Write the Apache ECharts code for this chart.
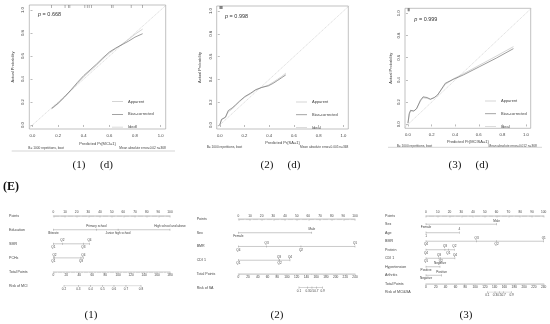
<!DOCTYPE html>
<html><head><meta charset="utf-8">
<script src="https://cdn.jsdelivr.net/npm/echarts@6/dist/echarts.min.js"></script>
<style>html,body{margin:0;padding:0;background:#fff}#c{width:550px;height:324px}</style>
</head><body><div id="c"></div>
<script>
// ---------- calibration curves ----------
const calTicks = [0, 0.2, 0.4, 0.6, 0.8, 1.0];
const cal1Pred = [0.15, 0.2, 0.25, 0.3, 0.35, 0.4, 0.45, 0.5, 0.55, 0.6, 0.65, 0.7, 0.75, 0.8, 0.86];
const cal1Bias = [0.145, 0.19, 0.245, 0.305, 0.37, 0.43, 0.48, 0.53, 0.585, 0.635, 0.67, 0.70, 0.73, 0.765, 0.795];
const cal1App  = [0.14, 0.185, 0.24, 0.3, 0.36, 0.42, 0.47, 0.52, 0.575, 0.625, 0.665, 0.705, 0.745, 0.79, 0.835];
const cal1Rug  = [0.15, 0.254, 0.28, 0.292, 0.409, 0.427, 0.442, 0.46, 0.616, 0.629, 0.77, 0.86];
const cal2Pred = [0, 0.014, 0.024, 0.046, 0.068, 0.1, 0.127, 0.16, 0.203, 0.25, 0.29, 0.34, 0.393, 0.43, 0.466, 0.5, 0.534];
const cal2Bias = [0, 0.05, 0.056, 0.068, 0.126, 0.15, 0.176, 0.21, 0.25, 0.28, 0.31, 0.33, 0.344, 0.365, 0.39, 0.415, 0.44];
const cal2App  = [0, 0.045, 0.06, 0.07, 0.115, 0.14, 0.17, 0.205, 0.245, 0.275, 0.305, 0.33, 0.35, 0.375, 0.40, 0.425, 0.455];
const cal2Rug  = [0, 0.004, 0.008, 0.012, 0.016, 0.02];
const cal3Pred = [0, 0.011, 0.022, 0.05, 0.073, 0.106, 0.128, 0.162, 0.19, 0.223, 0.251, 0.316, 0.385, 0.469, 0.609, 0.749, 0.894];
const cal3Bias = [0.012, 0.097, 0.127, 0.121, 0.142, 0.218, 0.248, 0.242, 0.227, 0.242, 0.264, 0.37, 0.406, 0.445, 0.521, 0.597, 0.682];
const cal3App  = [0.01, 0.09, 0.12, 0.12, 0.14, 0.21, 0.24, 0.235, 0.225, 0.24, 0.265, 0.36, 0.41, 0.455, 0.535, 0.615, 0.70];
const cal3Rug  = [0, 0.004, 0.008, 0.012];
const pValues  = ['0.668', '0.998', '0.999'];
const xTitles  = ['Predicted Pr{MCI=1}', 'Predicted Pr{SA=1}', 'Predicted Pr{MCISA=1}'];
const bootText = 'B= 1000 repetitions, boot';
const maeTexts = ['Mean absolute error=0.02 n=368', 'Mean absolute error=0.005 n=368', 'Mean absolute error=0.012 n=368'];
const legendNames = ['Apparent', 'Bias-corrected', 'Ideal'];
const idealRange = [-0.1, 1.1];

// ---------- nomograms ----------
const nomo1Rows = ['Points', 'Education', 'SMR', 'PCHs', 'Total Points', 'Risk of MCI'];
const eduLabels = ['Illiterate', 'Primary school', 'Junior high school', 'High school and above'];
const eduPoints = [0, 37, 55.5, 100];
const smr1Labels = ['Q1', 'Q2', 'Q3', 'Q4'];
const smr1Points = [0, 7.7, 25.7, 31];
const pch1Labels = ['Q1', 'Q2', 'Q3', 'Q4'];
const pch1Points = [0, 1, 23.7, 25.7];
const total1Max = 180;
const risk1Labels = ['0.2', '0.3', '0.4', '0.5', '0.6', '0.7', '0.8'];
const risk1Points = [16.5, 38.6, 57.6, 76.1, 93.6, 112.1, 135.3];

const nomo2Rows = ['Points', 'Sex', 'BMR', 'CDI 1', 'Total Points', 'Risk of SA'];
const sex2Labels = ['Female', 'Male'];
const sex2Points = [0, 63];
const bmr2Labels = ['Q4', 'Q3', 'Q2', 'Q1'];
const bmr2Points = [0, 24.3, 53.7, 100];
const cdi2Labels = ['Q1', 'Q3', 'Q2', 'Q4'];
const cdi2Points = [0, 34.9, 35.4, 44.3];
const total2Max = 240;
const risk2Labels = ['0.1', '0.3', '0.5', '0.7', '0.9'];
const risk2Points = [124.8, 142.6, 151.5, 160.5, 173.5];

const nomo3Rows = ['Points', 'Sex', 'Age', 'BMR', 'Protein', 'CDI 1', 'Hypertension', 'Arthritis', 'Total Points', 'Risk of MCI&SA'];
const sex3Labels = ['Female', 'Male'];
const sex3Points = [0, 60];
const age3Labels = ['1', '4'];
const age3Points = [0, 28.3];
const bmr3Labels = ['Q4', 'Q3', 'Q2', 'Q1'];
const bmr3Points = [0, 43, 60, 100];
const pro3Labels = ['Q4', 'Q3', 'Q1', 'Q2'];
const pro3Points = [0, 16.1, 19, 24.1];
const cdi3Labels = ['Q1', 'Q3', 'Q2', 'Q4'];
const cdi3Points = [0, 11, 12.5, 24.6];
const hyp3Labels = ['Positive', 'Negative'];
const hyp3Points = [0, 11.9];
const art3Labels = ['Negative', 'Positive'];
const art3Points = [0, 13.3];
const total3Max = 240;
const risk3Labels = ['0.1', '0.3', '0.5', '0.7', '0.9'];
const risk3Points = [125.1, 140.7, 149.6, 158.4, 174.7];

// ---------- build ----------
const FONT = 'Liberation Sans, Arial, sans-serif';
const SERIF = 'Liberation Serif, Times New Roman, serif';
const TXT = '#444', LINE = '#888';
const grids = [], xAxes = [], yAxes = [], series = [], legends = [], graphics = [];

const calCfg = [
  {box:{left:29.3, top:5, width:136.4, height:124}, pred:cal1Pred, bias:cal1Bias, app:cal1App, rug:cal1Rug, yGap:14.5, xGap:13, leg:{left:107, top:94}},
  {box:{left:216.7, top:6, width:131.6, height:123}, pred:cal2Pred, bias:cal2Bias, app:cal2App, rug:cal2Rug, yGap:14.5, xGap:12, leg:{left:291, top:94.5}},
  {box:{left:405, top:8.3, width:125.7, height:120}, pred:cal3Pred, bias:cal3Bias, app:cal3App, rug:cal3Rug, yGap:12, xGap:11.5, leg:{left:480, top:93.5}}
];
const X_MIN = -0.025, X_MAX = 1.04, Y_MIN = -0.035, Y_MAX = 1.045;
const C_IDEAL = '#c4c4c4', C_APP = '#b8b8b8', C_BIAS = '#666';
calCfg.forEach((c, i) => {
  const gi = grids.length;
  grids.push(Object.assign({show:true, borderColor:'#999', borderWidth:0.6, backgroundColor:'transparent'}, c.box));
  const xi = xAxes.length, yi = yAxes.length;
  const fmt = v => v.toFixed(1);
  xAxes.push({gridIndex:gi, type:'value', min:X_MIN, max:X_MAX,
    axisLine:{show:false}, splitLine:{show:false},
    axisTick:{show:true, length:2, customValues:calTicks, lineStyle:{color:'#777', width:0.5}},
    axisLabel:{customValues:calTicks, formatter:fmt, fontSize:4.2, margin:4.5, color:TXT, fontFamily:FONT},
    name:xTitles[i], nameLocation:'middle', nameGap:c.xGap, nameTextStyle:{fontSize:4, color:TXT, fontFamily:FONT}});
  yAxes.push({gridIndex:gi, type:'value', min:Y_MIN, max:Y_MAX,
    axisLine:{show:false}, splitLine:{show:false},
    axisTick:{show:true, length:2, customValues:calTicks, lineStyle:{color:'#777', width:0.5}},
    axisLabel:{customValues:calTicks, formatter:fmt, fontSize:4.2, margin:4, rotate:90, color:TXT, fontFamily:FONT},
    name:'Actual Probability', nameLocation:'middle', nameGap:c.yGap, nameTextStyle:{fontSize:4, color:TXT, fontFamily:FONT}});
  const common = {xAxisIndex:xi, yAxisIndex:yi, type:'line', symbol:'none', silent:true, animation:false, clip:true, smooth:false};
  series.push(Object.assign({}, common, {name:'Ideal', data:idealRange.map(v => [v, v]), itemStyle:{color:C_IDEAL}, lineStyle:{color:C_IDEAL, width:0.6, type:[1.2, 0.8]}, z:1}));
  series.push(Object.assign({}, common, {name:'Apparent', data:c.pred.map((p, k) => [p, c.app[k]]), itemStyle:{color:C_APP}, lineStyle:{color:C_APP, width:0.6}, z:2}));
  series.push(Object.assign({}, common, {name:'Bias-corrected', data:c.pred.map((p, k) => [p, c.bias[k]]), itemStyle:{color:C_BIAS}, lineStyle:{color:C_BIAS, width:0.65}, z:3}));
  series.push({type:'scatter', xAxisIndex:xi, yAxisIndex:yi, data:c.rug.map(v => [v, Y_MAX]), symbol:'rect', symbolSize:[0.5, 3], symbolOffset:[0, 1.5], itemStyle:{color:'#444'}, silent:true, animation:false});
  legends.push({left:c.leg.left, top:c.leg.top, orient:'vertical', itemGap:7.8, itemWidth:11, itemHeight:0.6, icon:'rect', selectedMode:false,
    data:legendNames, textStyle:{fontSize:4, color:TXT, fontFamily:FONT, lineHeight:5}});
});

// nomogram builder
function sideData(labels, pts) {
  const idx = pts.map((p, k) => k).sort((a, b) => pts[a] - pts[b]);
  return idx.map((k, j) => ({p:pts[k], t:labels[k], side: j % 2 === 0 ? 'bottom' : 'top'}));
}
function nomogram(cfg) {
  const gi = grids.length;
  grids.push({left:cfg.left, top:cfg.top, width:cfg.width, height:cfg.height});
  const xi = xAxes.length, yi = yAxes.length;
  const step = cfg.height / (cfg.rows.length - 1);
  const axStyle = {
    axisLine:{show:true, lineStyle:{color:LINE, width:0.45}},
    axisTick:{show:true, inside:true, length:1.8, lineStyle:{color:LINE, width:0.4}},
    minorTick:{show:true, splitNumber:10, length:1.1, lineStyle:{color:LINE, width:0.3}},
    splitLine:{show:false}, minorSplitLine:{show:false}
  };
  xAxes.push(Object.assign({gridIndex:gi, type:'value', position:'top', min:0, max:100, interval:10,
    axisLabel:{fontSize:3.2, margin:1.6, color:TXT, fontFamily:FONT}}, axStyle));
  xAxes.push(Object.assign({gridIndex:gi, type:'value', position:'bottom', offset:-step, min:0, max:cfg.totalMax, interval:20,
    axisLabel:{fontSize:3.2, margin:1.6, color:TXT, fontFamily:FONT}}, axStyle,
    {axisTick:{show:true, inside:false, length:1.8, lineStyle:{color:LINE, width:0.4}}, minorTick:{show:true, splitNumber:5, length:1.1, lineStyle:{color:LINE, width:0.3}}}));
  yAxes.push({gridIndex:gi, type:'category', inverse:true, boundaryGap:false, data:cfg.rows,
    axisLine:{show:false}, axisTick:{show:false}, splitLine:{show:false},
    axisLabel:{interval:0, align:'left', margin:cfg.left - cfg.labelX, fontSize:3.6, color:TXT, fontFamily:FONT}});
  const mk = (row, items, axisIdx, allBottom) => ({
    type:'line', xAxisIndex:axisIdx, yAxisIndex:yi, silent:true, animation:false,
    symbol:'rect', symbolSize:[0.4, 2.2], itemStyle:{color:LINE}, lineStyle:{color:LINE, width:0.45},
    data:items.map(d => ({value:[d.p, row], label:{show:true, position: allBottom ? 'bottom' : d.side, distance:0.6, formatter:d.t, fontSize:3.1, color:TXT, fontFamily:FONT}}))
  });
  cfg.vars.forEach(v => series.push(mk(v.row, sideData(v.labels, v.pts), xi, false)));
  const riskRow = cfg.rows[cfg.rows.length - 1];
  series.push(mk(riskRow, cfg.riskPts.map((p, k) => ({p:p, t:cfg.riskLabels[k]})), xi + 1, true));
}
nomogram({left:53.3, top:215.7, width:116.7, height:70.3, labelX:9, rows:nomo1Rows, totalMax:total1Max,
  riskLabels:risk1Labels, riskPts:risk1Points,
  vars:[{row:'Education', labels:eduLabels, pts:eduPoints}, {row:'SMR', labels:smr1Labels, pts:smr1Points}, {row:'PCHs', labels:pch1Labels, pts:pch1Points}]});
nomogram({left:238.3, top:219, width:116.7, height:68.7, labelX:196.7, rows:nomo2Rows, totalMax:total2Max,
  riskLabels:risk2Labels, riskPts:risk2Points,
  vars:[{row:'Sex', labels:sex2Labels, pts:sex2Points}, {row:'BMR', labels:bmr2Labels, pts:bmr2Points}, {row:'CDI 1', labels:cdi2Labels, pts:cdi2Points}]});
nomogram({left:426, top:215.7, width:117.7, height:76.6, labelX:385, rows:nomo3Rows, totalMax:total3Max,
  riskLabels:risk3Labels, riskPts:risk3Points,
  vars:[{row:'Sex', labels:sex3Labels, pts:sex3Points}, {row:'Age', labels:age3Labels, pts:age3Points},
        {row:'BMR', labels:bmr3Labels, pts:bmr3Points}, {row:'Protein', labels:pro3Labels, pts:pro3Points},
        {row:'CDI 1', labels:cdi3Labels, pts:cdi3Points}, {row:'Hypertension', labels:hyp3Labels, pts:hyp3Points},
        {row:'Arthritis', labels:art3Labels, pts:art3Points}]});

// ---------- annotation text ----------
const pPos = [[38, 15], [225, 16.7], [414.3, 20]];
pPos.forEach((p, i) => graphics.push({type:'text', left:p[0], top:p[1] - 3.5, silent:true,
  style:{text:'{i|p} = ' + pValues[i], rich:{i:{fontStyle:'italic', fontSize:5.5, fill:'#333', fontFamily:FONT}}, fontSize:5.5, fill:'#333', fontFamily:FONT}}));
const notePos = [[28.3, 165.7, 146.5], [206.7, 348.3, 145.5], [396.7, 536.7, 144.5]];
notePos.forEach((n, i) => {
  graphics.push({type:'text', left:n[0], top:n[2], silent:true, style:{text:bootText, fontSize:3.2, fill:TXT, fontFamily:FONT}});
  graphics.push({type:'text', right:550 - n[1], top:n[2], silent:true, style:{text:maeTexts[i], fontSize:3.2, fill:TXT, fontFamily:FONT}});
});
graphics.push({type:'line', silent:true, shape:{x1:11.7, y1:151, x2:175, y2:151}, style:{stroke:'#aaa', lineWidth:0.5}});
graphics.push({type:'line', silent:true, shape:{x1:388, y1:147.3, x2:542, y2:147.3}, style:{stroke:'#aaa', lineWidth:0.5}});
const subLabels = [['(1)', 79], ['(d)', 106.5], ['(2)', 267], ['(d)', 294], ['(3)', 455], ['(d)', 482]];
subLabels.forEach(s => graphics.push({type:'text', x:s[1], y:165, silent:true,
  style:{text:s[0], fontSize:11, fill:'#111', fontFamily:SERIF, align:'center', verticalAlign:'middle'}}));
graphics.push({type:'text', x:3, y:187, silent:true, style:{text:'(E)', fontSize:12, fontWeight:'bold', fill:'#111', fontFamily:SERIF, verticalAlign:'middle'}});
[['(1)', 91], ['(2)', 277], ['(3)', 466]].forEach(s => graphics.push({type:'text', x:s[1], y:315, silent:true,
  style:{text:s[0], fontSize:11, fill:'#111', fontFamily:SERIF, align:'center', verticalAlign:'middle'}}));

const chart = echarts.init(document.getElementById('c'), null, {renderer:'canvas'});
chart.setOption({animation:false, backgroundColor:'#fff', grid:grids, xAxis:xAxes, yAxis:yAxes, series:series, legend:legends, graphic:graphics});
</script></body></html>
